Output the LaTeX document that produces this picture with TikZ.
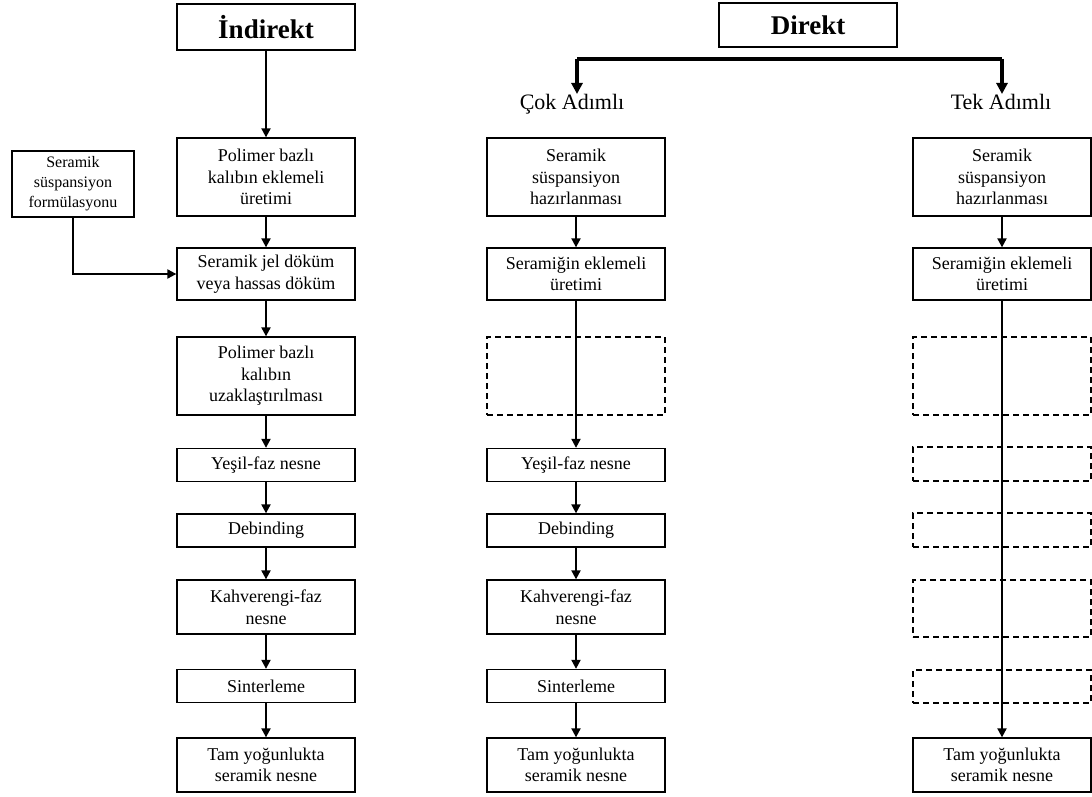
\documentclass[tikz,border=0pt]{standalone}
\usepackage{fontspec}
\setmainfont{Liberation Serif}
\usetikzlibrary{arrows.meta,positioning}
\tikzset{
  proc/.style={draw=black,line width=1.3pt,minimum width=178pt,align=center,inner sep=2pt,font=\fontsize{18}{21.6}\selectfont,fill=white},
  ghost/.style={draw=black,line width=1.2pt,dash pattern=on 6pt off 4pt,minimum width=178pt},
  title/.style={draw=black,line width=1.3pt,minimum width=178pt,inner sep=2pt,font=\fontsize{27}{32}\selectfont\bfseries},
  branch/.style={inner sep=0pt,font=\fontsize{22}{26}\selectfont},
  flow/.style={-{Triangle[length=9pt,width=9pt]},line width=2pt},
  bar/.style={line width=4pt},
  barflow/.style={-{Triangle[length=11pt,width=11pt]},line width=4pt},
}
\begin{document}
\begin{tikzpicture}[x=1pt,y=-1pt]
\useasboundingbox (0,0) rectangle (1092,797);
% indirekt
\node[title,minimum height=46pt] (ind) at (266,27) {İndirekt};
\node[proc,minimum height=78pt] (ipol) at (266,177) {Polimer bazlı\\kalıbın eklemeli\\üretimi};
\node[proc,minimum height=52pt] (ijel) at (266,274) {Seramik jel döküm\\veya hassas döküm};
\node[proc,minimum height=78pt] (irem) at (266,376) {Polimer bazlı\\kalıbın\\uzaklaştırılması};
\node[proc,minimum height=33pt] (iyes) at (266,465) {Yeşil-faz nesne};
\node[proc,minimum height=33pt] (ideb) at (266,530.5) {Debinding};
\node[proc,minimum height=54pt] (ikah) at (266,607) {Kahverengi-faz\\nesne};
\node[proc,minimum height=33pt] (isin) at (266,686) {Sinterleme};
\node[proc,minimum height=54pt] (itam) at (266,765) {Tam yoğunlukta\\seramik nesne};
\node[proc,minimum width=122pt,minimum height=66pt,font=\fontsize{16}{20}\selectfont] (form) at (73,184) {Seramik\\süspansiyon\\formülasyonu};
\draw[flow] (ind) -- (ipol);
\draw[flow] (ipol) -- (ijel);
\draw[flow] (ijel) -- (irem);
\draw[flow] (irem) -- (iyes);
\draw[flow] (iyes) -- (ideb);
\draw[flow] (ideb) -- (ikah);
\draw[flow] (ikah) -- (isin);
\draw[flow] (isin) -- (itam);
\draw[flow] (form.south) |- (ijel.west);
% direkt
\node[title,minimum height=44pt] (dir) at (808,25) {Direkt};
\coordinate (bl) at (577,59);
\coordinate (br) at (1002,59);
\node[branch,anchor=north] (cok) at (572,94) {Çok Adımlı};
\node[branch,anchor=north] (tek) at (1001,94) {Tek Adımlı};
\draw[bar] (bl) -- (br);
\draw[barflow] (bl) -- (bl |- cok.north);
\draw[barflow] (br) -- (br |- tek.north);
% cok adimli
\node[proc,minimum height=78pt] (mser) at (576,177) {Seramik\\süspansiyon\\hazırlanması};
\node[proc,minimum height=52pt] (mek) at (576,274) {Seramiğin eklemeli\\üretimi};
\node[ghost,minimum height=78pt] (mgh) at (576,376) {};
\node[proc,minimum height=33pt] (myes) at (576,465) {Yeşil-faz nesne};
\node[proc,minimum height=33pt] (mdeb) at (576,530.5) {Debinding};
\node[proc,minimum height=54pt] (mkah) at (576,607) {Kahverengi-faz\\nesne};
\node[proc,minimum height=33pt] (msin) at (576,686) {Sinterleme};
\node[proc,minimum height=54pt] (mtam) at (576,765) {Tam yoğunlukta\\seramik nesne};
\draw[flow] (mser) -- (mek);
\draw[flow] (mek) -- (myes);
\draw[flow] (myes) -- (mdeb);
\draw[flow] (mdeb) -- (mkah);
\draw[flow] (mkah) -- (msin);
\draw[flow] (msin) -- (mtam);
% tek adimli
\node[proc,minimum height=78pt] (rser) at (1002,177) {Seramik\\süspansiyon\\hazırlanması};
\node[proc,minimum height=52pt] (rek) at (1002,274) {Seramiğin eklemeli\\üretimi};
\node[ghost,minimum height=78pt] (rgh1) at (1002,376) {};
\node[ghost,minimum height=34pt] (rgh2) at (1002,464) {};
\node[ghost,minimum height=34pt] (rgh3) at (1002,530) {};
\node[ghost,minimum height=57pt] (rgh4) at (1002,608.5) {};
\node[ghost,minimum height=33pt] (rgh5) at (1002,686.5) {};
\node[proc,minimum height=54pt] (rtam) at (1002,765) {Tam yoğunlukta\\seramik nesne};
\draw[flow] (rser) -- (rek);
\draw[flow] (rek) -- (rtam);
\end{tikzpicture}
\end{document}
